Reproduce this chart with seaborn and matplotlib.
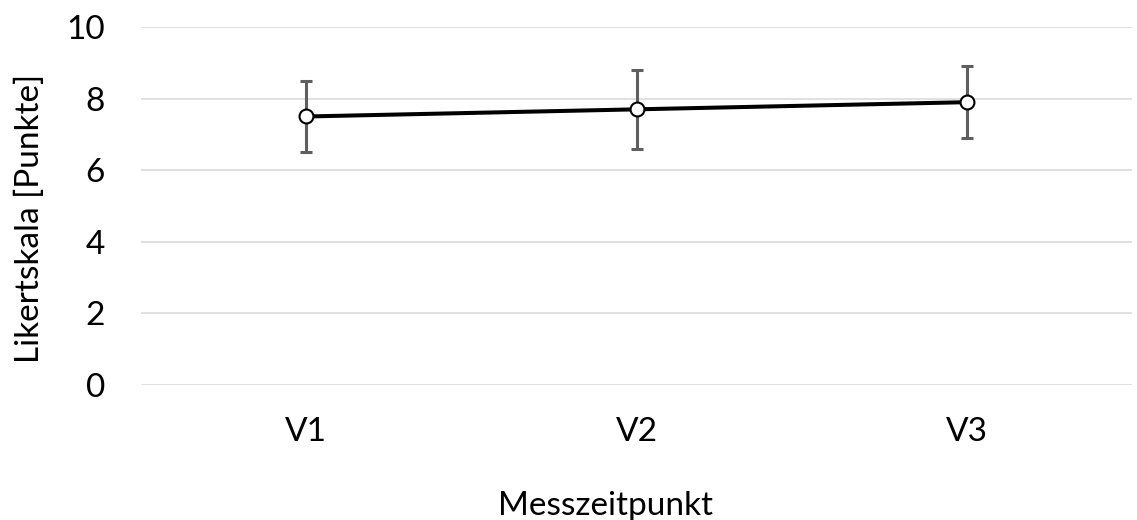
import matplotlib
matplotlib.use("Agg")
import matplotlib.pyplot as plt
import seaborn as sns
import numpy as np
import pandas as pd

categories = ["V1", "V2", "V3"]
means = [7.5, 7.7, 7.9]
err_low = [6.5, 6.6, 6.9]
err_high = [8.5, 8.8, 8.9]
y_ticks = [0, 2, 4, 6, 8, 10]

sns.set_theme(style="white")
plt.rcParams['font.family'] = ['Lato', 'DejaVu Sans']

df = pd.DataFrame({"Messzeitpunkt": categories, "Wert": means})

fig = plt.figure(figsize=(11.37, 5.2), dpi=100)
ax = fig.add_axes([141/1137, 1-385/520, 991/1137, 358/520])

x = np.arange(len(categories))
m = np.array(means)
yerr = np.vstack([m - np.array(err_low), np.array(err_high) - m])
ax.errorbar(x, m, yerr=yerr, fmt="none", ecolor="#5f5f5f", elinewidth=2.2,
            capsize=4.3, capthick=2.2, zorder=2)

sns.lineplot(data=df, x="Messzeitpunkt", y="Wert", ax=ax, color="black",
             linewidth=2.9, marker="o", markersize=10, markerfacecolor="white",
             markeredgecolor="black", markeredgewidth=1.5, zorder=3, sort=False)

ax.set_xlim(-0.5, len(categories) - 0.5)
ax.set_ylim(0, 10)
ax.set_yticks(y_ticks)
ax.set_xticks(x)
ax.set_xticklabels(categories)
ax.grid(axis="y", color="#d9d9d9", linewidth=1.1)
ax.grid(axis="x", visible=False)
ax.set_axisbelow(True)
for s in ax.spines.values():
    s.set_visible(False)
ax.tick_params(axis="both", length=0, labelsize=24, colors="black")
ax.tick_params(axis="y", pad=26)
ax.tick_params(axis="x", pad=23)
ax.set_xlabel("Messzeitpunkt", fontsize=24, labelpad=32, color="black")
ax.set_ylabel("Likertskala [Punkte]", fontsize=24, labelpad=15, color="black")
ax.xaxis.label.set_x(0.469)
ax.yaxis.label.set_y(0.466)

fig.savefig("out.png", dpi=100)
